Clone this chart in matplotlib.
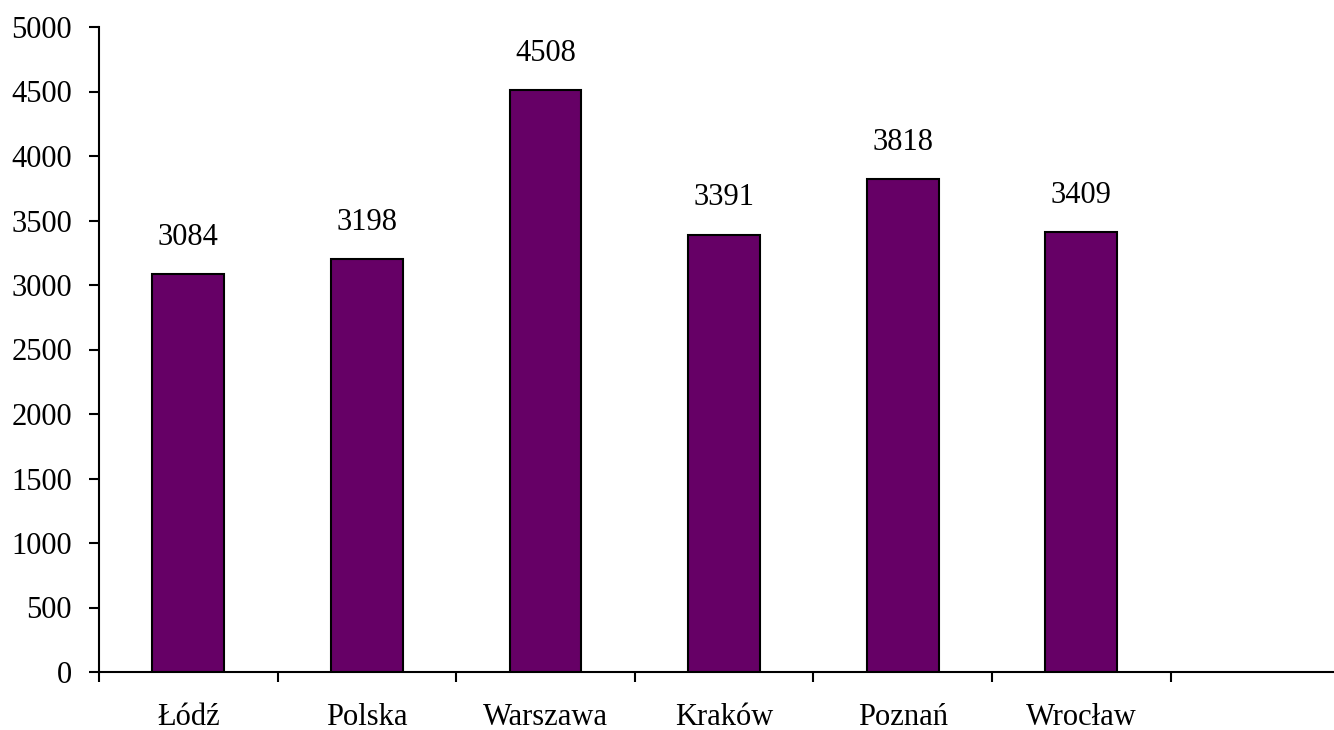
import matplotlib
matplotlib.use("Agg")
import matplotlib.pyplot as plt
from matplotlib.ticker import NullFormatter

categories = ["Łódź", "Polska", "Warszawa", "Kraków", "Poznań", "Wrocław"]
values = [3084, 3198, 4508, 3391, 3818, 3409]
yticks = [0, 500, 1000, 1500, 2000, 2500, 3000, 3500, 4000, 4500, 5000]

plt.rcParams['font.family'] = ['Liberation Serif', 'DejaVu Serif']
W, H = 1334, 730
fig = plt.figure(figsize=(W / 100, H / 100), dpi=100)
left, right, top, bottom = 99, 1334, 27, 672
ax = fig.add_axes([left / W, 1 - bottom / H, (right - left) / W, (bottom - top) / H])

x = list(range(len(categories)))
ax.bar(x, values, width=0.403, color="#660066", edgecolor="black", linewidth=1.5, zorder=3)
for xi, v in zip(x, values):
    ax.annotate(str(v), (xi, v), xytext=(0, 16), textcoords="offset points",
                ha="center", va="bottom", fontsize=22)

span = (right - left) / 178.6
ax.set_xlim(-0.5, -0.5 + span)
ax.set_ylim(0, 5000)
ax.set_yticks(yticks)
ax.set_yticklabels([str(t) for t in yticks], fontsize=22)

ax.set_xticks([i - 0.5 for i in range(len(categories) + 1)])
ax.xaxis.set_major_formatter(NullFormatter())
ax.set_xticks(x, minor=True)
ax.set_xticklabels(categories, minor=True, fontsize=22)
ax.tick_params(axis="x", which="minor", length=0, pad=22.5)
ax.tick_params(axis="x", which="major", direction="out", length=7.5, width=1.5)
ax.tick_params(axis="y", direction="out", length=7.5, width=1.5, pad=12)

for s in ["top", "right"]:
    ax.spines[s].set_visible(False)
for s in ["left", "bottom"]:
    ax.spines[s].set_linewidth(1.5)

fig.savefig("out.png", dpi=100)
